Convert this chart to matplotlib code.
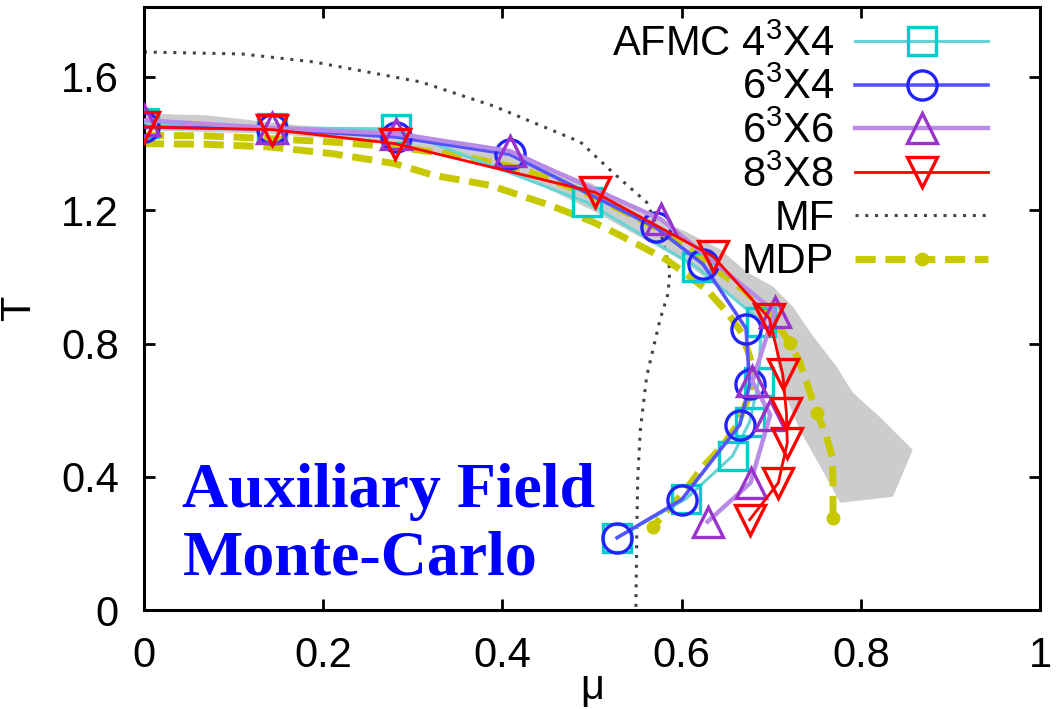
import numpy as np
import matplotlib.pyplot as plt

plt.rcParams['font.family'] = ['Liberation Sans', 'DejaVu Sans']
plt.rcParams['mathtext.fontset'] = 'custom'
plt.rcParams['mathtext.rm'] = 'Liberation Sans'

# AFMC 4^3 x 4
mu_44 = [0.0, 0.143, 0.281, 0.494, 0.617, 0.689, 0.686, 0.676, 0.657, 0.605, 0.528]
T_44 = [1.462, 1.447, 1.444, 1.224, 1.029, 0.866, 0.683, 0.565, 0.463, 0.334, 0.217]

# AFMC 6^3 x 4
mu_64 = [0.0, 0.143, 0.281, 0.408, 0.571, 0.624, 0.672, 0.676, 0.665, 0.600, 0.528]
T_64 = [1.450, 1.444, 1.420, 1.368, 1.149, 1.038, 0.845, 0.677, 0.556, 0.331, 0.217]

# AFMC 6^3 x 6
mu_66 = [0.0, 0.143, 0.281, 0.408, 0.577, 0.704, 0.679, 0.699, 0.677, 0.629]
T_66 = [1.470, 1.447, 1.430, 1.378, 1.173, 0.896, 0.686, 0.586, 0.382, 0.265]

# AFMC 8^3 x 8
mu_88 = [0.0, 0.143, 0.280, 0.503, 0.635, 0.698, 0.713, 0.717, 0.718, 0.708, 0.676]
T_88 = [1.450, 1.442, 1.400, 1.254, 1.062, 0.875, 0.707, 0.592, 0.502, 0.382, 0.271]

# mean field
mu_mf = [0.0, 0.11, 0.19, 0.309, 0.39, 0.487, 0.523, 0.561, 0.578, 0.587, 0.585, 0.576,
         0.561, 0.554, 0.551, 0.550, 0.549]
T_mf = [1.675, 1.669, 1.645, 1.585, 1.513, 1.405, 1.314, 1.224, 1.12, 1.023, 0.95, 0.872,
        0.70, 0.541, 0.391, 0.22, 0.0]

# MDP, two branches
mu_mdp1 = [0.0, 0.07, 0.14, 0.21, 0.28, 0.35, 0.42, 0.50, 0.57, 0.62, 0.67, 0.70,
           0.721, 0.732, 0.751, 0.762, 0.768, 0.769, 0.769, 0.769]
T_mdp1 = [1.425, 1.423, 1.415, 1.405, 1.39, 1.365, 1.325, 1.245, 1.15, 1.06, 0.96, 0.88,
          0.803, 0.743, 0.592, 0.52, 0.46, 0.391, 0.331, 0.277]
mu_mdp2 = [0.0, 0.07, 0.14, 0.21, 0.28, 0.323, 0.386, 0.453, 0.501, 0.529, 0.557, 0.584,
           0.628, 0.651, 0.667, 0.676, 0.68, 0.675, 0.662, 0.645, 0.624, 0.602, 0.568]
T_mdp2 = [1.40, 1.398, 1.39, 1.37, 1.34, 1.305, 1.275, 1.215, 1.165, 1.128, 1.089, 1.05,
          0.962, 0.893, 0.833, 0.761, 0.72, 0.64, 0.555, 0.49, 0.43, 0.352, 0.25]

# grey band
mu_band = [0.0, 0.07, 0.17, 0.28, 0.40, 0.50, 0.55, 0.606, 0.643, 0.673, 0.702, 0.724,
           0.747, 0.773, 0.791, 0.821, 0.858, 0.836, 0.777, 0.755, 0.732, 0.715, 0.706,
           0.704, 0.69, 0.65, 0.60, 0.50, 0.40, 0.28, 0.14, 0.0]
T_band = [1.49, 1.485, 1.455, 1.44, 1.38, 1.28, 1.20, 1.134, 1.083, 1.014, 0.971, 0.911,
          0.821, 0.731, 0.653, 0.58, 0.481, 0.34, 0.322, 0.43, 0.54, 0.65, 0.75,
          0.82, 0.86, 0.95, 1.05, 1.20, 1.33, 1.40, 1.43, 1.44]

xticks = [0, 0.2, 0.4, 0.6, 0.8, 1]
xticklabels = ['0', '0.2', '0.4', '0.6', '0.8', '1']
yticks = [0, 0.4, 0.8, 1.2, 1.6]
yticklabels = ['0', '0.4', '0.8', '1.2', '1.6']

fig = plt.figure(figsize=(10.6, 7.09), dpi=100)
ax = fig.add_axes([0.1358, 0.1396, 0.8453, 0.8505])

ax.fill(mu_band, T_band, color='#cccccc', lw=0, zorder=1)

ms = 21
ax.plot(mu_44, T_44, color='#66d4d4', lw=2.2, marker='s', ms=ms - 1, mfc='none',
        mec='#00cccc', mew=2.4, label=r'AFMC 4$^3$X4', zorder=3)
ax.plot(mu_64, T_64, color='#5555ff', lw=2.6, marker='o', ms=ms, mfc='none',
        mec='#2222ff', mew=2.4, label=r'6$^3$X4', zorder=4)
ax.plot(mu_66, T_66, color='#b88ce6', lw=3.2, marker='^', ms=ms, mfc='none',
        mec='#9933cc', mew=2.4, label=r'6$^3$X6', zorder=5)
ax.plot(mu_88, T_88, color='#ff0000', lw=2, marker='v', ms=ms, mfc='none',
        mec='#ff0000', mew=2.4, label=r'8$^3$X8', zorder=6)
ax.plot(mu_mf, T_mf, color='#444444', lw=2.2, ls=(0, (1, 2.2)), label='MF', zorder=2)
ax.plot(mu_mdp1, T_mdp1, color='#c8c800', lw=5, ls=(0, (2.9, 1.4)), marker='o', ms=9,
        markevery=[12, 14, 19], label='MDP', zorder=2)
ax.plot(mu_mdp2, T_mdp2, color='#c8c800', lw=5, ls=(0, (2.9, 1.4)), marker='o', ms=9,
        markevery=[22], zorder=2)

ax.set_xlim(0, 1)
ax.set_ylim(0, 1.81)
ax.set_xticks(xticks)
ax.set_xticklabels(xticklabels)
ax.set_yticks(yticks)
ax.set_yticklabels(yticklabels)
ax.tick_params(direction='in', length=8, width=2, labelsize=30, top=True, right=True)
ax.tick_params(axis='x', pad=19)
ax.tick_params(axis='y', pad=18)
for s in ax.spines.values():
    s.set_linewidth(2.2)

ax.set_xlabel('μ', fontsize=30, labelpad=-6)
ax.set_ylabel('T', fontsize=30, labelpad=16)

ax.text(0.043, 0.44, 'Auxiliary Field\nMonte-Carlo', color='#0000ff',
        fontsize=46, fontweight='bold', family='Liberation Serif',
        va='top', ha='left', linespacing=1.2, zorder=7)

ax.legend(loc='upper right', bbox_to_anchor=(0.975, 1.02), frameon=False,
          markerfirst=False, fontsize=30, handlelength=3.2, handletextpad=0.5,
          labelspacing=0.08, numpoints=1, borderpad=0.2)

fig.savefig('out.png', dpi=100)
